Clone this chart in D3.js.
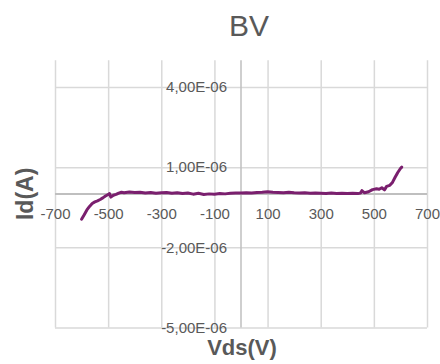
<!DOCTYPE html>
<html>
<head>
<meta charset="utf-8">
<script src="https://cdn.jsdelivr.net/npm/d3@7"></script>
<style>
  html, body { margin: 0; padding: 0; background: #fff; }
  svg { display: block; }
  text { font-family: "Liberation Sans", Arial, sans-serif; fill: #595959; }
</style>
</head>
<body>
<svg id="chart" width="440" height="364"></svg>
<script>
// ---- data ----
const title = "BV";
const xTitle = "Vds(V)";
const yTitle = "Id(A)";
const xTicks = [-700, -500, -300, -100, 100, 300, 500, 700];
const yTicks = [-5e-6, -2e-6, 1e-6, 4e-6];
const xDomain = [-700, 700];
const yDomain = [-5e-6, 5e-6];

const vds = [-600, -590, -580, -570, -560, -550, -540, -530, -520, -510, -500, -495, -490, -480, -470, -460, -450, -440,
  -420, -400, -380, -360, -340, -320, -300, -280, -260, -240, -220, -200, -180, -160, -140, -120, -100, -80, -60, -40, -20,
  0, 20, 40, 60, 80, 100, 120, 140, 160, 180, 200, 220, 240, 260, 280, 300, 320, 340, 360, 380, 400, 420, 440,
  450, 455, 465, 480, 495, 510, 520, 530, 540, 548, 560, 570, 580, 590, 600, 605];
const idA = [-9.5e-7, -7.8e-7, -6.0e-7, -4.7e-7, -3.6e-7, -3.0e-7, -2.6e-7, -2.1e-7, -1.5e-7, -8e-8, -2e-8, 1e-8, -1.2e-7, -5e-8, -2e-8, 3e-8, 6e-8, 4e-8,
  7e-8, 5e-8, 6e-8, 3e-8, 5e-8, 2e-8, 4e-8, 5e-8, 2e-8, 4e-8, 1e-8, 3e-8, -1e-8, 2e-8, -2e-8, 0, -1e-8, 1e-8, 0, 2e-8, 3e-8,
  3e-8, 4e-8, 3e-8, 5e-8, 6e-8, 8e-8, 6e-8, 5e-8, 4e-8, 6e-8, 4e-8, 3e-8, 4e-8, 2e-8, 3e-8, 2e-8, 1e-8, 3e-8, 1e-8, 2e-8, 1e-8, 2e-8, 1e-8,
  3e-8, 1.2e-7, 4e-8, 8e-8, 1.6e-7, 1.9e-7, 1.7e-7, 2.3e-7, 1.5e-7, 2.8e-7, 3.2e-7, 4.3e-7, 6.2e-7, 8.0e-7, 9.5e-7, 1.0e-6];

// ---- layout ----
const svg = d3.select("#chart");
const plot = { left: 55, right: 427, top: 60.25, bottom: 327.5 };

const x = d3.scaleLinear().domain(xDomain).range([plot.left, plot.right]);
const y = d3.scaleLinear().domain(yDomain).range([plot.bottom, plot.top]);

function sciComma(v) {
  if (v === 0) return "0,00E+00";
  const e = Math.floor(Math.log10(Math.abs(v)) + 1e-9);
  const m = v / Math.pow(10, e);
  const sign = e < 0 ? "-" : "+";
  const ea = String(Math.abs(e)).padStart(2, "0");
  return m.toFixed(2).replace(".", ",") + "E" + sign + ea;
}

// vertical gridlines
const gx = svg.append("g")
  .attr("transform", `translate(0,${plot.bottom})`)
  .call(d3.axisBottom(x).tickValues(xTicks).tickSize(-(plot.bottom - plot.top)).tickFormat(""));
gx.select(".domain").remove();
gx.selectAll("line").attr("stroke", "#d9d9d9").attr("stroke-width", 1.5);

// horizontal gridlines
const gy = svg.append("g")
  .attr("transform", `translate(${plot.left},0)`)
  .call(d3.axisLeft(y).tickValues(yTicks).tickSize(-(plot.right - plot.left)).tickFormat(""));
gy.select(".domain").remove();
gy.selectAll("line").attr("stroke", "#d9d9d9").attr("stroke-width", 1.5);

// zero axes
const xAxis = svg.append("g")
  .attr("transform", `translate(0,${y(0)})`)
  .call(d3.axisBottom(x).tickValues(xTicks).tickSize(0).tickPadding(14).tickFormat(d => String(d)));
xAxis.select(".domain").attr("stroke", "#bfbfbf").attr("stroke-width", 2)
  .attr("d", `M${plot.left},0H${plot.right}`);
xAxis.selectAll("text").attr("font-size", 15).attr("font-family", "Liberation Sans, Arial, sans-serif").attr("fill", "#595959");

const yAxis = svg.append("g")
  .attr("transform", `translate(${x(0)},0)`)
  .call(d3.axisLeft(y).tickValues(yTicks).tickSize(0).tickPadding(14).tickFormat(sciComma));
yAxis.select(".domain").attr("stroke", "#bfbfbf").attr("stroke-width", 1.5)
  .attr("d", `M0,${plot.bottom}V${plot.top}`);
yAxis.selectAll("text").attr("font-size", 15).attr("font-family", "Liberation Sans, Arial, sans-serif").attr("fill", "#595959");

// data line
const pts = vds.map((v, i) => [v, idA[i]]);
svg.append("path")
  .datum(pts)
  .attr("fill", "none")
  .attr("stroke", "#7a1f6e")
  .attr("stroke-width", 3)
  .attr("stroke-linejoin", "round")
  .attr("stroke-linecap", "round")
  .attr("d", d3.line().x(d => x(d[0])).y(d => y(d[1])));

// titles
svg.append("text").attr("x", 249).attr("y", 36).attr("text-anchor", "middle")
  .attr("font-size", 30).text(title);
svg.append("text").attr("x", 242).attr("y", 355).attr("text-anchor", "middle")
  .attr("font-size", 22).attr("font-weight", "bold").text(xTitle);
svg.append("text").attr("transform", `translate(33,${(plot.top + plot.bottom) / 2}) rotate(-90)`)
  .attr("text-anchor", "middle").attr("font-size", 23).attr("font-weight", "bold").text(yTitle);
</script>
</body>
</html>
